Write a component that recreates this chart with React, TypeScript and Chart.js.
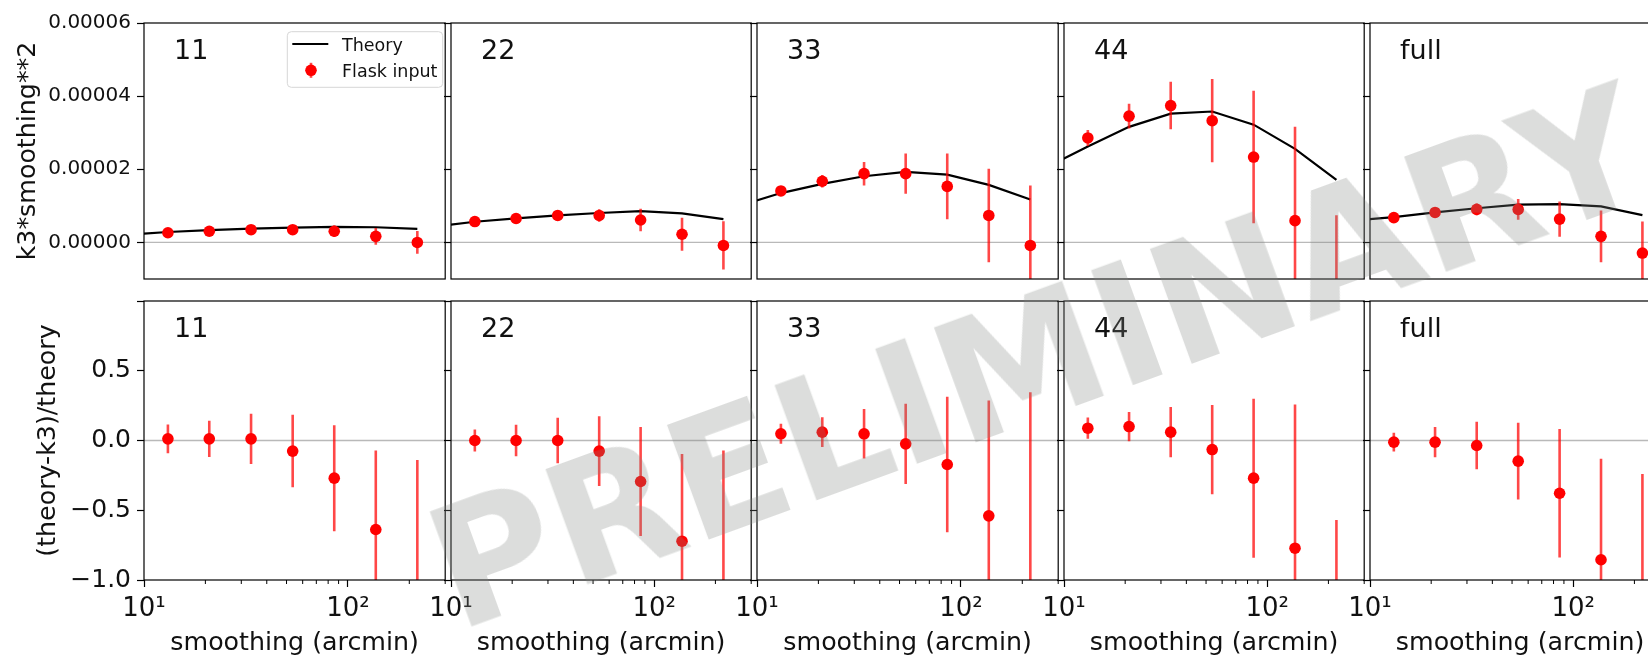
import React, { useEffect, useRef } from "react";
import { Chart, registerables } from "chart.js";

Chart.register(...registerables);

const FONT = '"DejaVu Sans", "Liberation Sans", sans-serif';

// ---------------- data ----------------
const smoothing = [13.1, 20.9, 33.5, 53.6, 85.7, 137, 219];
const theorySmoothing = [8.2, 13.1, 20.9, 33.5, 53.6, 85.7, 137, 219];
const panelNames = ["11", "22", "33", "44", "full"];

// top row: k3 * smoothing^2
const k3_11 = [2.65e-6, 3.06e-6, 3.48e-6, 3.48e-6, 3.06e-6, 1.66e-6, 0.0];
const k3Err_11 = [0.3e-6, 0.43e-6, 0.65e-6, 1.0e-6, 1.6e-6, 2.3e-6, 3.1e-6];
const theory_11 = [2.1e-6, 2.85e-6, 3.35e-6, 3.75e-6, 4.05e-6, 4.25e-6, 4.15e-6, 3.7e-6];

const k3_22 = [5.71e-6, 6.54e-6, 7.37e-6, 7.37e-6, 6.13e-6, 2.24e-6, -0.83e-6];
const k3Err_22 = [0.45e-6, 0.75e-6, 1.2e-6, 1.7e-6, 3.1e-6, 4.5e-6, 6.6e-6];
const theory_22 = [4.34e-6, 5.65e-6, 6.6e-6, 7.4e-6, 8.05e-6, 8.55e-6, 7.95e-6, 6.38e-6];

const k3_33 = [1.408e-5, 1.673e-5, 1.88e-5, 1.88e-5, 1.532e-5, 0.737e-5, -0.083e-5];
const k3Err_33 = [0.1e-5, 0.174e-5, 0.32e-5, 0.55e-5, 0.9e-5, 1.28e-5, 1.64e-5];
const theory_33 = [1.007e-5, 1.35e-5, 1.6e-5, 1.81e-5, 1.93e-5, 1.855e-5, 1.573e-5, 1.176e-5];

const k3_44 = [2.857e-5, 3.453e-5, 3.743e-5, 3.329e-5, 2.335e-5, 0.596e-5, -2.455e-5];
const k3Err_44 = [0.22e-5, 0.34e-5, 0.65e-5, 1.14e-5, 1.81e-5, 2.57e-5, 3.2e-5];
const theory_44 = [2.055e-5, 2.625e-5, 3.16e-5, 3.52e-5, 3.58e-5, 3.22e-5, 2.56e-5, 1.71e-5];

const k3_full = [0.679e-5, 0.82e-5, 0.903e-5, 0.903e-5, 0.638e-5, 0.166e-5, -0.29e-5];
const k3Err_full = [0.046e-5, 0.089e-5, 0.16e-5, 0.285e-5, 0.48e-5, 0.71e-5, 0.86e-5];
const theory_full = [0.6e-5, 0.69e-5, 0.82e-5, 0.935e-5, 1.035e-5, 1.05e-5, 0.985e-5, 0.745e-5];

// bottom row: relative difference
const ratio_11 = [0.012, 0.012, 0.012, -0.076, -0.27, -0.638, -1.08];
const ratioErr_11 = [0.103, 0.13, 0.18, 0.26, 0.38, 0.566, 0.94];
const ratio_22 = [0.0, 0.0, 0.0, -0.076, -0.294, -0.722, -1.13];
const ratioErr_22 = [0.079, 0.113, 0.163, 0.25, 0.39, 0.626, 1.058];
const ratio_33 = [0.048, 0.06, 0.048, -0.024, -0.172, -0.54, -1.07];
const ratioErr_33 = [0.072, 0.107, 0.177, 0.287, 0.486, 0.827, 1.416];
const ratio_44 = [0.088, 0.1, 0.06, -0.065, -0.27, -0.772, -2.4];
const ratioErr_44 = [0.076, 0.105, 0.18, 0.32, 0.57, 1.03, 1.83];
const ratio_full = [-0.012, -0.012, -0.036, -0.148, -0.378, -0.855, -1.39];
const ratioErr_full = [0.067, 0.108, 0.17, 0.275, 0.46, 0.724, 1.15];

// ticks / ranges / labels
const topYTicks = [0, 2e-5, 4e-5, 6e-5];
const bottomYTicks = [-1, -0.5, 0, 0.5, 1];
const topYRange = [-1e-5, 6e-5];
const bottomYRange = [-1, 1];
const xRange = [10, 300];
const xMajorTicks = [10, 100];
const xTickLabels = ["10¹", "10²"];
const xMinorTicks = [20, 30, 40, 50, 60, 70, 80, 90, 200, 300];
const yTitleTop = "k3*smoothing**2";
const yTitleBottom = "(theory-k3)/theory";
const xTitle = "smoothing (arcmin)";
const legendTheory = "Theory";
const legendFlask = "Flask input";
const watermark = "PRELIMINARY";

const topValues = [k3_11, k3_22, k3_33, k3_44, k3_full];
const topErrors = [k3Err_11, k3Err_22, k3Err_33, k3Err_44, k3Err_full];
const topTheory = [theory_11, theory_22, theory_33, theory_44, theory_full];
const bottomValues = [ratio_11, ratio_22, ratio_33, ratio_44, ratio_full];
const bottomErrors = [ratioErr_11, ratioErr_22, ratioErr_33, ratioErr_44, ratioErr_full];

// ---------------- layout ----------------
const COL_EDGES = [144, 451, 757, 1064, 1370, 1676];
const ROW_EDGES = [23, 301, 580];
const PAGE_W = 1648;
const PAGE_H = 661;

type Spec = {
  row: number;
  col: number;
  name: string;
  values: number[];
  errors: number[];
  theory: number[] | null;
};

const specs: Spec[] = [];
for (let c = 0; c < 5; c++) {
  specs.push({ row: 0, col: c, name: panelNames[c], values: topValues[c], errors: topErrors[c], theory: topTheory[c] });
}
for (let c = 0; c < 5; c++) {
  specs.push({ row: 1, col: c, name: panelNames[c], values: bottomValues[c], errors: bottomErrors[c], theory: null });
}

function geometry(row: number, col: number) {
  const marginLeft = col === 0 ? COL_EDGES[0] : 30;
  const marginTop = row === 0 ? ROW_EDGES[0] : 25;
  const marginBottom = row === 0 ? 22 : PAGE_H - ROW_EDGES[2];
  const plotW = COL_EDGES[col + 1] - COL_EDGES[col];
  const plotH = ROW_EDGES[row + 1] - ROW_EDGES[row];
  return {
    left: COL_EDGES[col] - marginLeft,
    top: ROW_EDGES[row] - marginTop,
    width: marginLeft + plotW,
    height: marginTop + plotH + marginBottom,
    marginLeft,
    marginTop,
    marginBottom,
  };
}

function fmtTop(v: any) {
  return Number(v).toFixed(5);
}
function fmtBottom(v: any) {
  const n = Number(v);
  if (Math.abs(n - 1) < 1e-9) return "";
  return n < 0 ? "\u2212" + Math.abs(n).toFixed(1) : n.toFixed(1);
}

function drawLegend(ctx: CanvasRenderingContext2D, ca: any) {
  const bx = ca.left + 143.3;
  const by = ca.top + 8.7;
  const bw = 155.4;
  const bh = 55.6;
  ctx.save();
  ctx.beginPath();
  if ((ctx as any).roundRect) (ctx as any).roundRect(bx, by, bw, bh, 4);
  else ctx.rect(bx, by, bw, bh);
  ctx.fillStyle = "rgba(255,255,255,0.8)";
  ctx.fill();
  ctx.strokeStyle = "#d6d6d6";
  ctx.lineWidth = 1;
  ctx.stroke();
  // theory handle
  ctx.strokeStyle = "#000";
  ctx.lineWidth = 2.2;
  ctx.beginPath();
  ctx.moveTo(ca.left + 148.3, ca.top + 21);
  ctx.lineTo(ca.left + 184.3, ca.top + 21);
  ctx.stroke();
  // flask handle
  const mx = ca.left + 167;
  const my = ca.top + 47.3;
  ctx.strokeStyle = "rgba(255,0,0,0.72)";
  ctx.lineWidth = 2.6;
  ctx.beginPath();
  ctx.moveTo(mx, my - 7.5);
  ctx.lineTo(mx, my + 7.5);
  ctx.stroke();
  ctx.fillStyle = "#ff0000";
  ctx.beginPath();
  ctx.arc(mx, my, 5.8, 0, Math.PI * 2);
  ctx.fill();
  // texts
  ctx.fillStyle = "#111";
  ctx.font = `17.5px ${FONT}`;
  ctx.textAlign = "left";
  ctx.textBaseline = "alphabetic";
  ctx.fillText(legendTheory, ca.left + 198, ca.top + 28);
  ctx.fillText(legendFlask, ca.left + 198, ca.top + 54);
  ctx.restore();
}

function makeConfig(spec: Spec, g: ReturnType<typeof geometry>): any {
  const isTop = spec.row === 0;
  const yTicks = isTop ? topYTicks : bottomYTicks;
  const yRange = isTop ? topYRange : bottomYRange;
  const tickGrid = {
    display: true,
    drawOnChartArea: false,
    drawTicks: true,
    tickLength: 7,
    tickColor: "#000",
    tickWidth: 1.2,
    color: "rgba(0,0,0,0)",
  };

  const datasets: any[] = [
    {
      label: legendFlask,
      data: smoothing.map((x, i) => ({ x, y: spec.values[i] })),
      showLine: false,
      pointRadius: 5.8,
      pointHoverRadius: 5.8,
      pointBackgroundColor: "#ff0000",
      pointBorderColor: "#ff0000",
      pointBorderWidth: 0,
      borderColor: "#ff0000",
      backgroundColor: "#ff0000",
    },
  ];
  if (spec.theory) {
    const th = spec.theory;
    datasets.push({
      label: legendTheory,
      data: theorySmoothing.map((x, i) => ({ x, y: th[i] })),
      borderColor: "#000",
      borderWidth: 2.2,
      pointRadius: 0,
      pointHoverRadius: 0,
      fill: false,
      tension: 0,
    });
  }

  const decor = {
    id: "decor",
    beforeDatasetsDraw(chart: any) {
      const { ctx, chartArea: ca } = chart;
      const y0 = chart.scales.y.getPixelForValue(0);
      ctx.save();
      ctx.strokeStyle = "rgba(128,128,128,0.55)";
      ctx.lineWidth = 1.3;
      ctx.beginPath();
      ctx.moveTo(ca.left, y0);
      ctx.lineTo(ca.right, y0);
      ctx.stroke();
      ctx.restore();
    },
    beforeDatasetDraw(chart: any, args: any) {
      if (args.index !== 0) return;
      const { ctx, chartArea: ca } = chart;
      const xs = chart.scales.x;
      const ys = chart.scales.y;
      ctx.save();
      ctx.beginPath();
      ctx.rect(ca.left, ca.top, ca.right - ca.left, ca.bottom - ca.top);
      ctx.clip();
      ctx.strokeStyle = "rgba(255,0,0,0.72)";
      ctx.lineWidth = 2.6;
      ctx.lineCap = "butt";
      smoothing.forEach((x, i) => {
        const px = xs.getPixelForValue(x);
        const v = spec.values[i];
        const e = spec.errors[i];
        ctx.beginPath();
        ctx.moveTo(px, ys.getPixelForValue(v + e));
        ctx.lineTo(px, ys.getPixelForValue(v - e));
        ctx.stroke();
      });
      ctx.restore();
    },
    afterDraw(chart: any) {
      const { ctx, chartArea: ca } = chart;
      ctx.save();
      if (!isTop) {
        const xs = chart.scales.x;
        ctx.strokeStyle = "#000";
        ctx.lineWidth = 1;
        xMinorTicks.forEach((v) => {
          if (v > xRange[1]) return;
          const px = xs.getPixelForValue(v);
          ctx.beginPath();
          ctx.moveTo(px, ca.bottom);
          ctx.lineTo(px, ca.bottom + 4);
          ctx.stroke();
        });
      }
      ctx.strokeStyle = "#000";
      ctx.lineWidth = 1.2;
      ctx.strokeRect(ca.left, ca.top, ca.right - ca.left, ca.bottom - ca.top);
      ctx.fillStyle = "#111";
      ctx.font = `27px ${FONT}`;
      ctx.textAlign = "left";
      ctx.textBaseline = "alphabetic";
      ctx.fillText(spec.name, ca.left + 0.1 * (ca.right - ca.left), ca.top + 35.6);
      ctx.restore();
      if (isTop && spec.col === 0) drawLegend(ctx, ca);
    },
  };

  return {
    type: "line",
    data: { datasets },
    options: {
      animation: false,
      responsive: false,
      maintainAspectRatio: false,
      devicePixelRatio: 1,
      events: [],
      layout: { padding: { left: 0, right: 0, top: g.marginTop, bottom: isTop ? g.marginBottom : 0 } },
      plugins: { legend: { display: false }, tooltip: { enabled: false }, title: { display: false } },
      scales: {
        x: {
          type: "logarithmic",
          min: xRange[0],
          max: xRange[1],
          bounds: "data",
          display: !isTop,
          afterBuildTicks: (s: any) => {
            s.ticks = xMajorTicks.map((v) => ({ value: v }));
          },
          afterFit: (s: any) => {
            s.height = g.marginBottom;
          },
          ticks: {
            autoSkip: false,
            maxRotation: 0,
            minRotation: 0,
            padding: 6.5,
            color: "#111",
            font: { family: FONT, size: 26 },
            callback: (v: any) => {
              const idx = xMajorTicks.indexOf(Number(v));
              return idx >= 0 ? xTickLabels[idx] : "";
            },
          },
          grid: tickGrid,
          border: { display: false },
          title: {
            display: true,
            text: xTitle,
            color: "#111",
            font: { family: FONT, size: 25.3 },
            padding: { top: 0, bottom: 2.7 },
          },
        },
        y: {
          type: "linear",
          min: yRange[0],
          max: yRange[1],
          bounds: "data",
          afterBuildTicks: (s: any) => {
            s.ticks = yTicks.map((v) => ({ value: v }));
          },
          afterFit: (s: any) => {
            s.width = g.marginLeft;
          },
          ticks: {
            display: spec.col === 0,
            padding: 6,
            color: "#111",
            font: { family: FONT, size: isTop ? 20 : 25 },
            callback: isTop ? fmtTop : fmtBottom,
          },
          grid: tickGrid,
          border: { display: false },
          title: {
            display: spec.col === 0,
            text: isTop ? yTitleTop : yTitleBottom,
            color: "#111",
            font: { family: FONT, size: 25.3 },
            padding: { top: isTop ? 12.8 : 33.3, bottom: 0 },
          },
        },
      },
    },
    plugins: [decor],
  };
}

function Panel({ spec }: { spec: Spec }) {
  const ref = useRef<HTMLCanvasElement>(null);
  const g = geometry(spec.row, spec.col);
  useEffect(() => {
    if (!ref.current) return;
    const chart = new Chart(ref.current, makeConfig(spec, g));
    return () => chart.destroy();
  }, []);
  return (
    <canvas
      ref={ref}
      width={g.width}
      height={g.height}
      style={{ position: "absolute", left: g.left, top: g.top, width: g.width, height: g.height }}
    />
  );
}

export default function App() {
  return (
    <div
      style={{
        position: "fixed",
        left: 0,
        top: 0,
        width: PAGE_W,
        height: PAGE_H,
        overflow: "hidden",
        background: "#fff",
      }}
    >
      {specs.map((s) => (
        <Panel key={`${s.row}-${s.col}`} spec={s} />
      ))}
      <div
        style={{
          position: "absolute",
          left: 1037.5,
          top: 357.8,
          transform: "translate(-50%, -50%) rotate(-20deg)",
          fontFamily: FONT,
          fontWeight: "bold",
          fontSize: 168,
          lineHeight: 1,
          color: "rgba(128,132,130,0.28)",
          whiteSpace: "nowrap",
          pointerEvents: "none",
          zIndex: 10,
        }}
      >
        {watermark}
      </div>
    </div>
  );
}
